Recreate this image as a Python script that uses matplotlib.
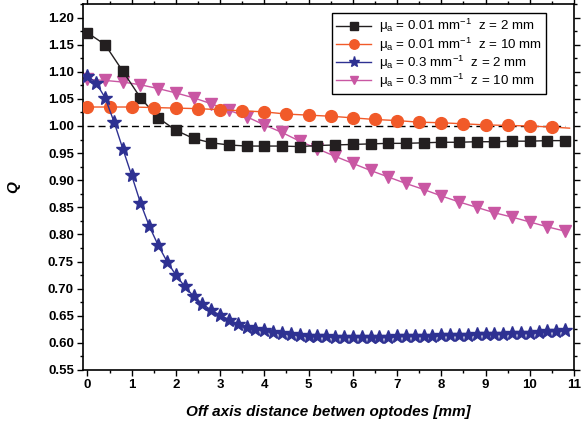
import numpy as np
import matplotlib
matplotlib.use("Agg")
import matplotlib.pyplot as plt
from matplotlib.ticker import MultipleLocator

plt.rcParams['font.family'] = ['Liberation Sans', 'DejaVu Sans']
plt.rcParams['mathtext.fontset'] = 'custom'
plt.rcParams['mathtext.rm'] = 'Liberation Sans'
plt.rcParams['mathtext.it'] = 'Liberation Sans'

# mua = 0.01 /mm, z = 2 mm (squares), step 0.4 mm
x_sq = [0.0, 0.4, 0.8, 1.2, 1.6, 2.0, 2.4, 2.8, 3.2, 3.6, 4.0, 4.4, 4.8, 5.2,
        5.6, 6.0, 6.4, 6.8, 7.2, 7.6, 8.0, 8.4, 8.8, 9.2, 9.6, 10.0, 10.4, 10.8]
q_sq = [1.172, 1.150, 1.101, 1.052, 1.015, 0.992, 0.977, 0.969, 0.965, 0.963,
        0.963, 0.963, 0.962, 0.964, 0.965, 0.966, 0.967, 0.968, 0.968, 0.969,
        0.970, 0.970, 0.971, 0.971, 0.972, 0.972, 0.973, 0.973]

# mua = 0.01 /mm, z = 10 mm (circles), step 0.5 mm
x_ci = [0.0, 0.5, 1.0, 1.5, 2.0, 2.5, 3.0, 3.5, 4.0, 4.5, 5.0, 5.5, 6.0, 6.5,
        7.0, 7.5, 8.0, 8.5, 9.0, 9.5, 10.0, 10.5, 10.9]
q_ci = [1.035, 1.035, 1.035, 1.034, 1.033, 1.032, 1.030, 1.028, 1.026, 1.022,
        1.020, 1.018, 1.015, 1.012, 1.010, 1.007, 1.006, 1.004, 1.002, 1.001,
        1.000, 0.998, 0.996]

# mua = 0.3 /mm, z = 2 mm (stars), step 0.2 mm
x_st = [round(0.2 * i, 1) for i in range(55)]
q_st = [1.093, 1.079, 1.052, 1.008, 0.958, 0.909, 0.858, 0.815, 0.780, 0.750,
        0.725, 0.704, 0.686, 0.672, 0.660, 0.651, 0.643, 0.635, 0.630, 0.626,
        0.623, 0.620, 0.618, 0.616, 0.614, 0.613, 0.612, 0.612, 0.611, 0.611,
        0.611, 0.611, 0.611, 0.611, 0.611, 0.612, 0.612, 0.612, 0.613, 0.613,
        0.614, 0.614, 0.615, 0.615, 0.616, 0.616, 0.617, 0.617, 0.618, 0.619,
        0.619, 0.620, 0.621, 0.622, 0.623]

# mua = 0.3 /mm, z = 10 mm (triangles), step 0.4 mm
x_tr = x_sq
q_tr = [1.086, 1.084, 1.081, 1.076, 1.069, 1.061, 1.052, 1.041, 1.029, 1.017,
        1.002, 0.988, 0.972, 0.958, 0.944, 0.931, 0.918, 0.906, 0.894, 0.883,
        0.871, 0.860, 0.850, 0.840, 0.832, 0.823, 0.814, 0.806]

labels = [r'$\mu_a$ = 0.01 mm$^{-1}$  z = 2 mm',
          r'$\mu_a$ = 0.01 mm$^{-1}$  z = 10 mm',
          r'$\mu_a$ = 0.3 mm$^{-1}$  z = 2 mm',
          r'$\mu_a$ = 0.3 mm$^{-1}$  z = 10 mm']

fig = plt.figure(figsize=(5.82, 4.34), dpi=100)
ax = fig.add_axes([0.1426, 0.1475, 0.8436, 0.8433])

ax.plot([0, 10.8], [1.0, 1.0], color='black', lw=1.0, ls=(0, (5, 3)), zorder=1)

ax.plot(x_sq, q_sq, color='#231f20', lw=1.0, marker='s', ms=7, label=labels[0], zorder=3)
ax.plot(x_ci, q_ci, color='#f15a29', lw=1.0, marker='o', ms=8.5,
        markevery=list(range(len(x_ci) - 1)), label=labels[1], zorder=3)
ax.plot(x_st, q_st, color='#2e3192', lw=1.0, marker='*', ms=10, label=labels[2], zorder=4)
ax.plot(x_tr, q_tr, color='#c957a3', lw=1.0, marker='v', ms=8, label=labels[3], zorder=2)

ax.set_xlim(-0.1, 11)
ax.set_ylim(0.55, 1.225)
ax.xaxis.set_major_locator(MultipleLocator(1))
ax.xaxis.set_minor_locator(MultipleLocator(0.5))
ax.yaxis.set_major_locator(MultipleLocator(0.05))
ax.yaxis.set_minor_locator(MultipleLocator(0.025))
ax.yaxis.set_major_formatter(plt.FormatStrFormatter('%.2f'))

ax.tick_params(which='both', direction='out', top=True, right=True,
               labelsize=9.5, width=1.0, pad=2)
ax.tick_params(which='major', length=4.5)
ax.tick_params(which='minor', length=2.5)
for lab in ax.get_xticklabels() + ax.get_yticklabels():
    lab.set_fontweight('bold')
for sp in ax.spines.values():
    sp.set_linewidth(1.2)

ax.set_xlabel('Off axis distance betwen optodes [mm]', fontsize=11,
              fontweight='bold', style='italic', labelpad=10)
ax.set_ylabel('Q', fontsize=11, fontweight='bold', style='italic', labelpad=20)

leg = ax.legend(loc='upper right', bbox_to_anchor=(0.943, 0.975), borderaxespad=0,
                fontsize=9.6, fancybox=False, edgecolor='black', framealpha=1,
                handlelength=2.6, handletextpad=0.6, labelspacing=0.0,
                borderpad=0.3, markerscale=0.8)
leg.get_frame().set_linewidth(1.0)

fig.savefig('out.png', dpi=100)
